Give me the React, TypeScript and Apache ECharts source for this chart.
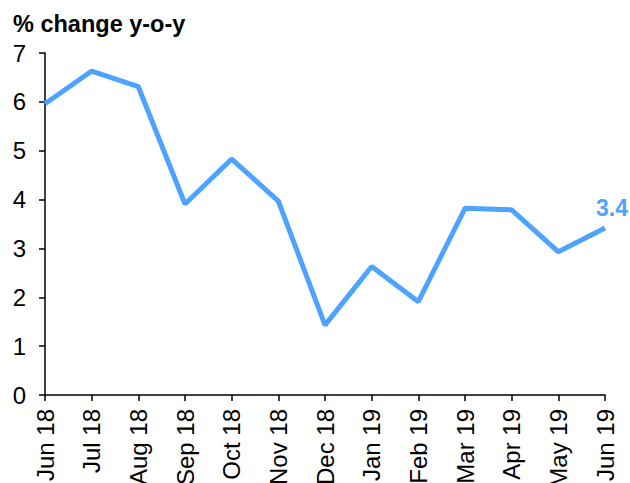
import React, { useEffect, useRef } from "react";
import * as echarts from "echarts";

const categories = ["Jun 18", "Jul 18", "Aug 18", "Sep 18", "Oct 18", "Nov 18", "Dec 18", "Jan 19", "Feb 19", "Mar 19", "Apr 19", "May 19", "Jun 19"];
const values = [5.96, 6.63, 6.31, 3.91, 4.83, 3.97, 1.43, 2.63, 1.91, 3.82, 3.79, 2.93, 3.42];
const yTicks = [0, 1, 2, 3, 4, 5, 6, 7];
const title = "% change y-o-y";
const lastLabel = "3.4";

const FONT = "Liberation Sans, Arial, sans-serif";
const BLUE = "#4DA3FF";

export default function App() {
  const ref = useRef<HTMLDivElement>(null);
  useEffect(() => {
    const chart = echarts.init(ref.current!, null, { renderer: "svg" });
    chart.setOption({
      animation: false,
      title: {
        text: title,
        left: 8,
        top: 7,
        textStyle: { fontFamily: FONT, fontWeight: "bold", fontSize: 23.5, color: "#000" },
      },
      grid: { left: 45, right: 25, top: 53, bottom: 88, containLabel: false, outerBoundsMode: "none" },
      xAxis: {
        type: "category",
        data: categories,
        boundaryGap: false,
        axisLine: { lineStyle: { color: "#000", width: 1.5 } },
        axisTick: { show: true, length: 6, alignWithLabel: true, lineStyle: { color: "#000", width: 1.5 } },
        axisLabel: { rotate: 90, interval: 0, fontFamily: FONT, fontSize: 24, color: "#000", margin: 14 },
        splitLine: { show: false },
      },
      yAxis: {
        type: "value",
        min: yTicks[0],
        max: yTicks[yTicks.length - 1],
        interval: 1,
        axisLine: { show: true, lineStyle: { color: "#000", width: 1.5 } },
        axisTick: { show: true, length: 6, lineStyle: { color: "#000", width: 1.5 } },
        axisLabel: { fontFamily: FONT, fontSize: 24, color: "#000", margin: 19 },
        splitLine: { show: false },
      },
      series: [
        {
          type: "line",
          data: values.map((v, i) =>
            i === values.length - 1
              ? {
                  value: v,
                  label: {
                    show: true,
                    formatter: lastLabel,
                    position: "top",
                    distance: 8,
                    offset: [7, 0],
                    fontFamily: FONT,
                    fontWeight: "bold",
                    fontSize: 23,
                    color: BLUE,
                  },
                }
              : v
          ),
          showSymbol: true,
          symbol: "circle",
          symbolSize: 1,
          lineStyle: { color: BLUE, width: 5 },
          itemStyle: { color: "rgba(0,0,0,0)" },
          label: { show: false },
          emphasis: { disabled: true },
        },
      ],
    });
    return () => chart.dispose();
  }, []);
  return <div ref={ref} style={{ width: 630, height: 483, position: "absolute", left: 0, top: 0 }} />;
}
